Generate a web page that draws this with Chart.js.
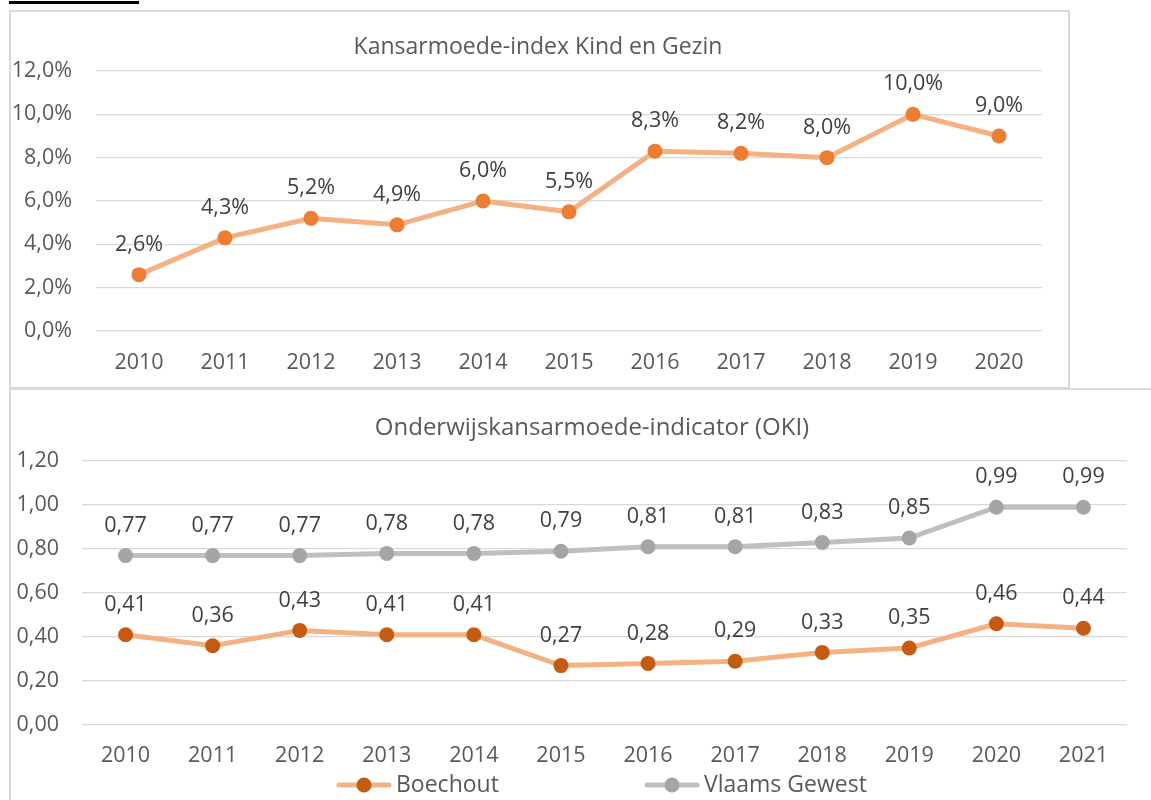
<!DOCTYPE html>
<html>
<head>
<meta charset="utf-8">
<script src="https://cdn.jsdelivr.net/npm/chart.js@4.4.1/dist/chart.umd.min.js"></script>
<style>
  body { margin: 0; background: #fff; width: 1151px; height: 800px; overflow: hidden; position: relative; }
  .blk { position: absolute; left: 9px; top: 1px; width: 130px; height: 3px; background: #000; }
  .box1 { position: absolute; left: 9px; top: 10px; width: 1057px; height: 375px; border: 2px solid #d9d9d9; }
  .box2 { position: absolute; left: 9px; top: 388px; width: 1160px; height: 430px; border: 2px solid #d9d9d9; }
  canvas { position: absolute; left: 0; }
</style>
</head>
<body>
<div class="blk"></div>
<div class="box1"></div>
<div class="box2"></div>
<canvas id="kgChart" width="1070" height="388" style="top:0"></canvas>
<canvas id="okiChart" width="1151" height="410" style="top:390px"></canvas>
<script>
// Kansarmoede-index Kind en Gezin (%)
const kgYears = ["2010", "2011", "2012", "2013", "2014", "2015", "2016", "2017", "2018", "2019", "2020"];
const kgBoechout = [2.6, 4.3, 5.2, 4.9, 6.0, 5.5, 8.3, 8.2, 8.0, 10.0, 9.0];

// OKI
const okiYears = ["2010", "2011", "2012", "2013", "2014", "2015", "2016", "2017", "2018", "2019", "2020", "2021"];
const okiBoechout = [0.41, 0.36, 0.43, 0.41, 0.41, 0.27, 0.28, 0.29, 0.33, 0.35, 0.46, 0.44];
const okiVlaams = [0.77, 0.77, 0.77, 0.78, 0.78, 0.79, 0.81, 0.81, 0.83, 0.85, 0.99, 0.99];

const FONT = "'Open Sans', sans-serif";
const SIZE = 21.5;
const axisGrey = "#595959";
const gridGrey = "#d9d9d9";

// Excel puts the title over the whole box, not over the plot area
const boxTitle = {
  id: "boxTitle",
  afterDraw(chart, args, opts) {
    const ctx = chart.ctx;
    ctx.save();
    ctx.font = opts.size + "px " + FONT;
    ctx.fillStyle = axisGrey;
    ctx.textAlign = "center";
    ctx.textBaseline = "middle";
    ctx.fillText(opts.text, opts.x, opts.y);
    ctx.restore();
  }
};

// labels above each point, like Excel data labels
const pointLabels = {
  id: "pointLabels",
  afterDatasetsDraw(chart, args, opts) {
    const ctx = chart.ctx;
    ctx.save();
    ctx.font = SIZE + "px " + FONT;
    ctx.fillStyle = "#404040";
    ctx.textAlign = "center";
    ctx.textBaseline = "middle";
    chart.data.datasets.forEach((ds, i) => {
      chart.getDatasetMeta(i).data.forEach((pt, j) => {
        ctx.fillText(opts.format(ds.data[j]), pt.x, pt.y - 30);
      });
    });
    ctx.restore();
  }
};

// line + marker legend at the bottom
const lineLegend = {
  id: "lineLegend",
  afterDraw(chart, args, opts) {
    if (!opts.items) return;
    const ctx = chart.ctx;
    ctx.save();
    opts.items.forEach(it => {
      const ds = chart.data.datasets[it.index];
      ctx.strokeStyle = ds.borderColor;
      ctx.lineWidth = 5;
      ctx.lineCap = "round";
      ctx.beginPath();
      ctx.moveTo(it.x - 25, opts.y);
      ctx.lineTo(it.x + 25, opts.y);
      ctx.stroke();
      ctx.fillStyle = ds.pointBackgroundColor;
      ctx.beginPath();
      ctx.arc(it.x, opts.y, 7.5, 0, Math.PI * 2);
      ctx.fill();
      ctx.font = "23px " + FONT;
      ctx.fillStyle = axisGrey;
      ctx.textAlign = "left";
      ctx.textBaseline = "middle";
      ctx.fillText(ds.label, it.x + 32, opts.y);
    });
    ctx.restore();
  }
};

const comma = (v, d) => v.toFixed(d).replace(".", ",");

new Chart(document.getElementById("kgChart"), {
  type: "line",
  data: {
    labels: kgYears,
    datasets: [{
      label: "Boechout",
      data: kgBoechout,
      borderColor: "#F4B183",
      borderWidth: 5,
      pointBackgroundColor: "#ED7D31",
      pointBorderWidth: 0,
      pointRadius: 7.5
    }]
  },
  options: {
    responsive: false,
    animation: false,
    layout: { padding: { left: 10, right: 28, top: 71, bottom: 0 } },
    plugins: {
      legend: { display: false },
      tooltip: { enabled: false },
      boxTitle: { text: "Kansarmoede-index Kind en Gezin", x: 538, y: 47, size: 23 },
      pointLabels: { format: v => comma(v, 1) + "%" }
    },
    scales: {
      x: {
        offset: true,
        grid: { display: false },
        border: { display: false },
        ticks: { color: axisGrey, padding: 11, font: { family: FONT, size: SIZE } },
        afterFit: s => { s.height = 57; }
      },
      y: {
        min: 0, max: 12,
        grid: { color: gridGrey, lineWidth: 1.3, drawTicks: false },
        border: { display: false },
        ticks: {
          stepSize: 2, color: axisGrey, padding: 24,
          font: { family: FONT, size: SIZE },
          callback: v => comma(v, 1) + "%"
        },
        afterFit: s => { s.width = 86; }
      }
    }
  },
  plugins: [boxTitle, pointLabels]
});

new Chart(document.getElementById("okiChart"), {
  type: "line",
  data: {
    labels: okiYears,
    datasets: [{
      label: "Boechout",
      data: okiBoechout,
      borderColor: "#F4B183",
      borderWidth: 5,
      pointBackgroundColor: "#C55A11",
      pointBorderWidth: 0,
      pointRadius: 7.5
    }, {
      label: "Vlaams Gewest",
      data: okiVlaams,
      borderColor: "#BFBFBF",
      borderWidth: 5,
      pointBackgroundColor: "#A5A5A5",
      pointBorderWidth: 0,
      pointRadius: 7.5
    }]
  },
  options: {
    responsive: false,
    animation: false,
    layout: { padding: { left: 10, right: 24, top: 71, bottom: 0 } },
    plugins: {
      legend: { display: false },
      tooltip: { enabled: false },
      boxTitle: { text: "Onderwijskansarmoede-indicator (OKI)", x: 592, y: 38, size: 24 },
      pointLabels: { format: v => comma(v, 2) },
      lineLegend: { y: 395, items: [{ index: 0, x: 364 }, { index: 1, x: 672 }] }
    },
    scales: {
      x: {
        offset: true,
        grid: { display: false },
        border: { display: false },
        ticks: { color: axisGrey, padding: 10, font: { family: FONT, size: SIZE } },
        afterFit: s => { s.height = 75; }
      },
      y: {
        min: 0, max: 1.2,
        grid: { color: gridGrey, lineWidth: 1.3, drawTicks: false },
        border: { display: false },
        ticks: {
          stepSize: 0.2, color: axisGrey, padding: 23,
          font: { family: FONT, size: SIZE },
          callback: v => comma(v, 2)
        },
        afterFit: s => { s.width = 72; }
      }
    }
  },
  plugins: [boxTitle, pointLabels, lineLegend]
});
</script>
</body>
</html>
